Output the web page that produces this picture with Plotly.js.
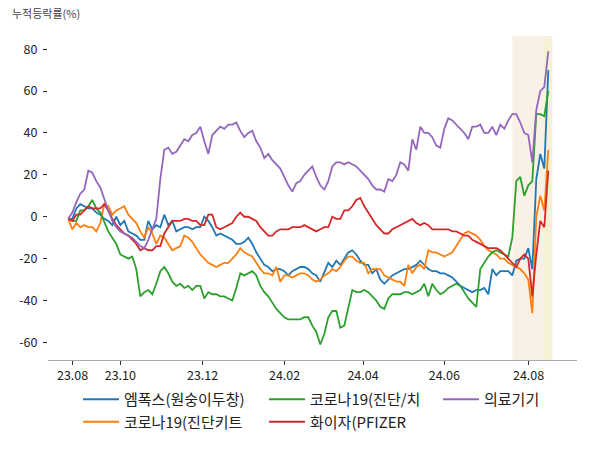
<!DOCTYPE html>
<html>
<head>
<meta charset="utf-8">
<script src="https://cdn.plot.ly/plotly-3.0.1.min.js"></script>
<style>html,body{margin:0;padding:0;background:#fff;}#chart{width:600px;height:450px;}</style>
</head>
<body>
<div id="chart"></div>
<script>
// Series names
const names = ['엠폭스(원숭이두창)', '코로나19(진단키트', '코로나19(진단/치', '화이자(PFIZER', '의료기기'];

// Cumulative return (%) sampled every 2 trading days
const mpox = [-1,-1,4,6,5,4,4,2,1,-1,
 -2,-4,0,-4,-2,-7,-8,-9,-11,-11,
 -2,-6,-4,-5,1,-4,-2,-7,-6,-5,
 -5,-6,-5,-5,0,-2,-5,-9,-8,-9,
 -10,-11,-13,-13,-12,-10,-13,-17,-20,-23,
 -24,-26,-25,-25,-26,-28,-26,-25,-24,-24,
 -25,-27,-28,-31,-26,-22,-24,-21,-23,-20,
 -17,-16,-18,-21,-23,-23,-27,-25,-30,-32,
 -30,-28,-27,-26,-25,-25,-24,-23,-21,-23,
 -25,-26,-26,-27,-27,-28,-29,-31,-33,-34,
 -35,-36,-35,-35,-34,-37,-25,-28,-26,-26,
 -26,-28,-21,-20,-20,-15,-25,18,30,23,
 70];
const covidKit = [-1,-6,-3,-5,-4,-5,-5,-7,-3,6,
 5,1,3,4,5,1,-1,-3,-7,-10,
 -5,-8,-13,-9,-10,-13,-16,-15,-14,-9,
 -10,-12,-15,-18,-20,-22,-23,-24,-23,-22,
 -22,-20,-18,-15,-17,-18,-19,-22,-25,-27,
 -27,-28,-24,-31,-28,-28,-29,-28,-27,-27,
 -28,-30,-31,-30,-28,-27,-25,-26,-24,-21,
 -19,-19,-21,-22,-22,-27,-25,-25,-25,-28,
 -29,-30,-31,-31,-33,-23,-27,-24,-23,-25,
 -16,-17,-17,-18,-19,-18,-17,-14,-11,-8,
 -7,-8,-9,-11,-14,-16,-17,-18,-20,-20,
 -22,-23,-24,-25,-27,-30,-46,0,10,3,
 32];
const covidTx = [-1,-2,-2,3,3,5,8,4,2,-3,
 -7,-10,-13,-18,-19,-20,-19,-25,-38,-36,
 -35,-37,-32,-26,-24,-27,-31,-33,-32,-34,
 -33,-35,-33,-33,-39,-36,-37,-37,-38,-38,
 -39,-40,-34,-27,-28,-27,-26,-28,-33,-36,
 -38,-41,-44,-46,-48,-49,-49,-49,-49,-48,
 -48,-52,-55,-61,-56,-48,-45,-45,-53,-52,
 -44,-35,-36,-36,-35,-36,-38,-40,-43,-44,
 -39,-37,-37,-37,-36,-36,-37,-36,-35,-32,
 -38,-32,-35,-37,-36,-34,-33,-32,-33,-36,
 -39,-41,-43,-25,-22,-19,-17,-16,-17,-18,
 -19,-10,17,19,10,15,17,49,49,48,
 60];
const pfizer = [-1,-2,1,1,3,5,4,4,4,6,
 3,-1,-4,-6,-8,-9,-11,-13,-16,-15,
 -16,-16,-14,-14,-8,-5,-2,-2,-2,-1,
 -1,-2,-2,-4,-4,1,1,-5,-6,-5,
 -4,-3,0,2,0,0,-1,-2,-5,-7,
 -9,-9,-7,-6,-6,-6,-5,-5,-5,-4,
 -5,-6,-7,-6,-5,-5,0,-1,-1,3,
 3,5,8,9,5,2,-1,-4,-6,-8,
 -8,-6,-5,-4,-3,-2,-1,-3,-4,-3,
 -4,-6,-6,-6,-6,-6,-7,-7,-8,-9,
 -9,-11,-12,-13,-14,-15,-15,-15,-16,-18,
 -20,-22,-24,-20,-18,-20,-38,-18,-2,-5,
 22];
const medDevice = [-1,2,7,11,13,22,21,17,14,8,
 3,-2,-5,-7,-8,-9,-10,-12,-14,-15,
 -11,-6,-1,18,32,33,30,31,34,37,
 36,39,40,43,36,30,39,41,43,42,
 44,44,45,41,38,40,41,36,33,28,
 30,27,25,23,19,15,12,16,17,20,
 22,24,19,15,13,17,24,26,26,25,
 26,25,24,22,20,18,15,13,13,12,
 18,17,20,26,25,22,37,32,43,40,
 40,38,34,33,42,47,46,44,42,40,
 37,43,43,44,40,40,43,39,44,42,
 46,49,49,45,40,39,26,51,60,62,
 79];

// Trading-day index of each sample
const tradingDay = mpox.map((_, k) => 2 * k);

// X tick labels (year.month) and their trading-day index
const tickLabels = ['23.08', '23.10', '23.12', '24.02', '24.04', '24.06', '24.08'];
const tickDays = [2.15, 26, 67.15, 108.15, 147.35, 188, 230.15];

// Y ticks
const yTickVals = [-60, -40, -20, 0, 20, 40, 60, 80];
const yTickText = ['-60', '-40', '-20', '0', '20', '40', '60', '80'];

// Highlighted periods (trading-day index)
const highlight1 = [222, 237.85];
const highlight2 = [237.85, 242];

const series = [mpox, covidKit, covidTx, pfizer, medDevice];
const colors = ['#1f77b4', '#ff7f0e', '#2ca02c', '#d62728', '#9467bd'];
const legendIds = ['legend', 'legend', 'legend2', 'legend2', 'legend3'];

const FONT = 'Noto Sans CJK KR, Noto Sans, sans-serif';

const traces = series.map((ys, k) => ({
  x: tradingDay,
  y: ys,
  type: 'scatter',
  mode: 'lines',
  name: names[k],
  legend: legendIds[k],
  line: {color: colors[k], width: 1.8},
  hoverinfo: 'skip'
}));

const legendBase = {
  orientation: 'v',
  xref: 'container', yref: 'container',
  xanchor: 'left', yanchor: 'top',
  bgcolor: 'rgba(0,0,0,0)',
  borderwidth: 0,
  itemwidth: 36,
  font: {family: FONT, size: 15, color: '#222'},
  tracegroupgap: 0
};

const layout = {
  width: 600, height: 450,
  margin: {l: 48, r: 23, t: 36, b: 90, autoexpand: false},
  paper_bgcolor: '#fff',
  plot_bgcolor: '#fff',
  showlegend: true,
  title: {
    text: '누적등락률(%)',
    xref: 'container', yref: 'container',
    x: 0.02, xanchor: 'left',
    y: 1 - 14 / 450, yanchor: 'middle',
    font: {family: FONT, size: 11, color: '#444'}
  },
  xaxis: {
    range: [-10.15, 254.35],
    tickvals: tickDays,
    ticktext: tickLabels,
    showgrid: false, zeroline: false,
    showline: true, linecolor: '#aaaaaa', linewidth: 1,
    ticks: 'outside', ticklen: 4, tickcolor: '#333',
    tickfont: {family: FONT, size: 12.5, color: '#222'}
  },
  yaxis: {
    range: [-68.4, 86.3],
    tickvals: yTickVals,
    ticktext: yTickText,
    showgrid: false, zeroline: false, showline: false,
    ticks: 'outside', ticklen: 4, tickcolor: '#333',
    ticklabelstandoff: 3,
    tickfont: {family: FONT, size: 12.5, color: '#222'}
  },
  shapes: [
    {type: 'rect', xref: 'x', yref: 'paper', x0: highlight1[0], x1: highlight1[1], y0: 0, y1: 1,
     fillcolor: '#faf1e6', line: {width: 0}, layer: 'below'},
    {type: 'rect', xref: 'x', yref: 'paper', x0: highlight2[0], x1: highlight2[1], y0: 0, y1: 1,
     fillcolor: '#f5f0d6', line: {width: 0}, layer: 'below'}
  ],
  legend: Object.assign({}, legendBase, {x: 78 / 600, y: 1 - 383 / 450}),
  legend2: Object.assign({}, legendBase, {x: 264 / 600, y: 1 - 383 / 450}),
  legend3: Object.assign({}, legendBase, {x: 438 / 600, y: 1 - 383 / 450})
};

Plotly.newPlot('chart', traces, layout, {staticPlot: true, displayModeBar: false});
</script>
</body>
</html>
